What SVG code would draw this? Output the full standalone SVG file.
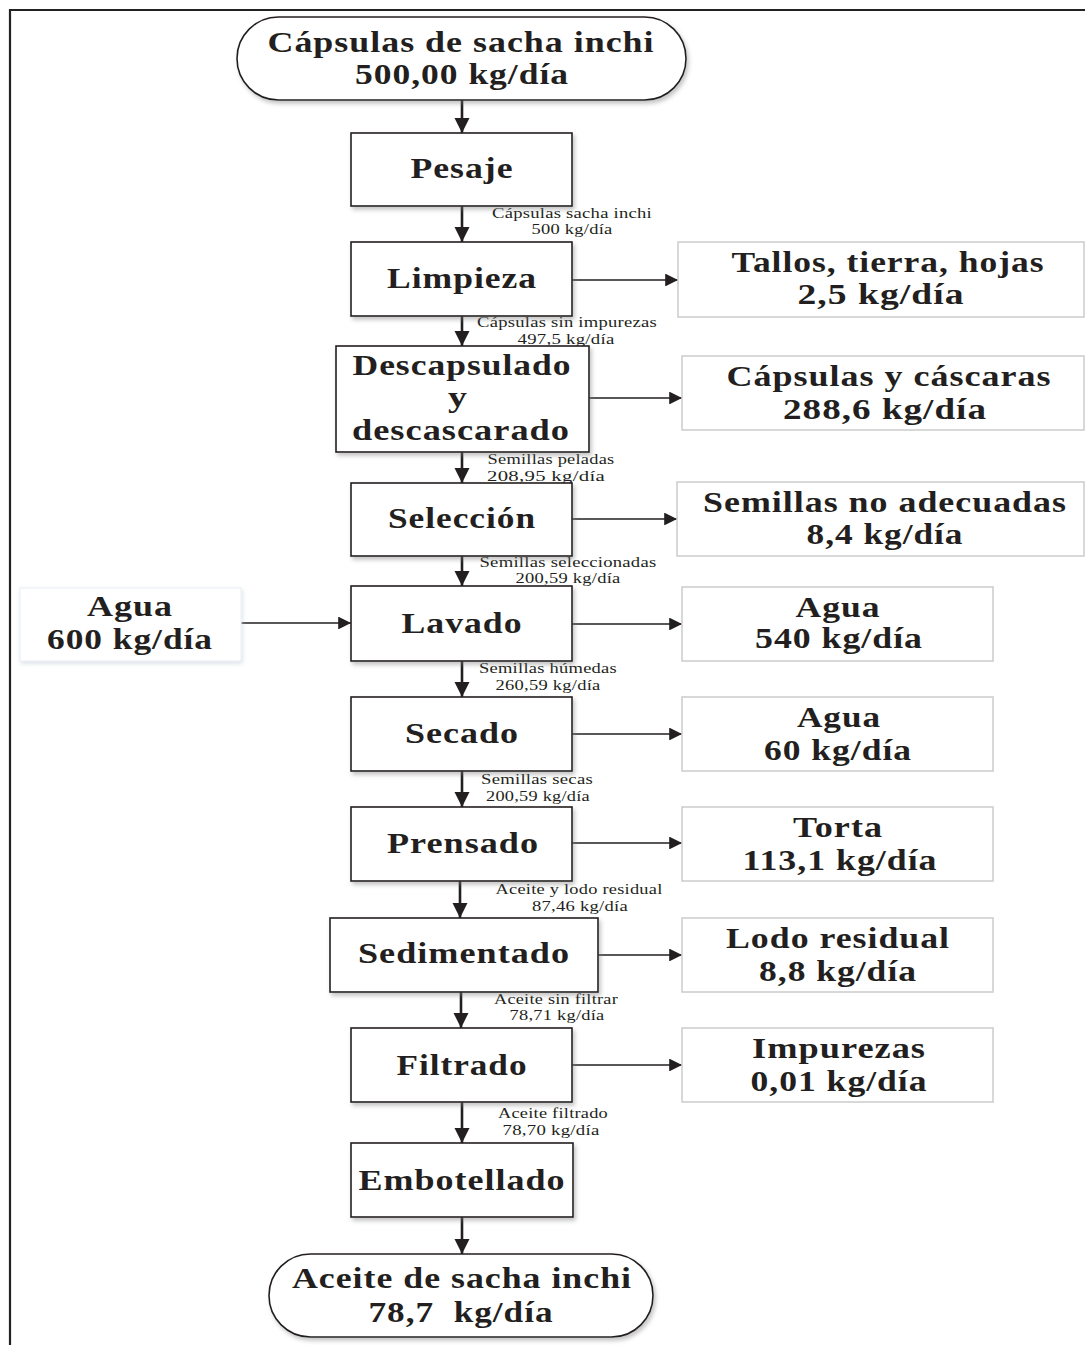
<svg xmlns="http://www.w3.org/2000/svg" width="1085" height="1345" viewBox="0 0 1085 1345">
  <style>
    .frame { stroke: #222; stroke-width: 2.2; fill: none; }
    .proc { fill: #fff; stroke: #231f20; stroke-width: 1.6; filter: url(#shadow); }
    .term { fill: #fff; stroke: #231f20; stroke-width: 1.6; filter: url(#shadow); }
    .out { fill: #fff; stroke: #cfcfcf; stroke-width: 1.6; }
    .inp { fill: #fff; stroke: #eef1f5; stroke-width: 1.2; filter: url(#softshadow); }
    .big { font-family: "Liberation Serif", "Times New Roman", serif; font-weight: bold; font-size: 29px; fill: #231f20; text-anchor: middle; letter-spacing: 0.8px; }
    .small { font-family: "Liberation Serif", "Times New Roman", serif; font-size: 14.5px; fill: #231f20; text-anchor: middle; letter-spacing: 0.2px; }
    .vline { stroke: #231f20; stroke-width: 2.6; fill: none; }
    .hline { stroke: #231f20; stroke-width: 1.6; fill: none; }
  </style>
  <defs>
    <filter id="shadow" x="-10%" y="-10%" width="125%" height="130%">
      <feDropShadow dx="2" dy="3" stdDeviation="2" flood-color="#7a7a7a" flood-opacity="0.45"/>
    </filter>
    <filter id="softshadow" x="-10%" y="-10%" width="125%" height="130%">
      <feDropShadow dx="1" dy="2" stdDeviation="2" flood-color="#b8c4d0" flood-opacity="0.5"/>
    </filter>
    <marker id="arrowV" viewBox="0 0 10 10" refX="10" refY="5" markerWidth="6" markerHeight="5.8" markerUnits="strokeWidth" orient="auto">
      <path d="M0,0 L10,5 L0,10 Z" fill="#231f20"/>
    </marker>
    <marker id="arrowH" viewBox="0 0 10 10" refX="10" refY="5" markerWidth="9.5" markerHeight="8" markerUnits="strokeWidth" orient="auto">
      <path d="M0,0 L10,5 L0,10 Z" fill="#231f20"/>
    </marker>
  </defs>

  <rect width="1085" height="1345" fill="#fff"/>

  <!-- page frame (top and left edges) -->
  <path class="frame" d="M10,1345 L10,10 L1085,10"/>

  <!-- connectors -->
  <g id="connectors">
    <line class="vline" x1="462" y1="100" x2="462" y2="133" marker-end="url(#arrowV)"/>
    <line class="vline" x1="462" y1="206" x2="462" y2="242" marker-end="url(#arrowV)"/>
    <line class="vline" x1="462" y1="316" x2="462" y2="346" marker-end="url(#arrowV)"/>
    <line class="vline" x1="462" y1="452" x2="462" y2="483" marker-end="url(#arrowV)"/>
    <line class="vline" x1="462" y1="556" x2="462" y2="586" marker-end="url(#arrowV)"/>
    <line class="vline" x1="462" y1="661" x2="462" y2="697" marker-end="url(#arrowV)"/>
    <line class="vline" x1="462" y1="771" x2="462" y2="807" marker-end="url(#arrowV)"/>
    <line class="vline" x1="460" y1="881" x2="460" y2="918" marker-end="url(#arrowV)"/>
    <line class="vline" x1="461" y1="992" x2="461" y2="1028" marker-end="url(#arrowV)"/>
    <line class="vline" x1="462" y1="1102" x2="462" y2="1143" marker-end="url(#arrowV)"/>
    <line class="vline" x1="462" y1="1217" x2="462" y2="1254" marker-end="url(#arrowV)"/>

    <line class="hline" x1="572" y1="280" x2="678" y2="280" marker-end="url(#arrowH)"/>
    <line class="hline" x1="589" y1="398" x2="682" y2="398" marker-end="url(#arrowH)"/>
    <line class="hline" x1="572" y1="519" x2="677" y2="519" marker-end="url(#arrowH)"/>
    <line class="hline" x1="241" y1="623" x2="351" y2="623" marker-end="url(#arrowH)"/>
    <line class="hline" x1="572" y1="624" x2="682" y2="624" marker-end="url(#arrowH)"/>
    <line class="hline" x1="572" y1="734" x2="682" y2="734" marker-end="url(#arrowH)"/>
    <line class="hline" x1="572" y1="843" x2="682" y2="843" marker-end="url(#arrowH)"/>
    <line class="hline" x1="598" y1="955" x2="682" y2="955" marker-end="url(#arrowH)"/>
    <line class="hline" x1="572" y1="1065" x2="682" y2="1065" marker-end="url(#arrowH)"/>

    <!-- flow labels -->
    <text class="small" x="572" y="218" textLength="160" lengthAdjust="spacingAndGlyphs">Cápsulas sacha inchi</text>
    <text class="small" x="572" y="234" textLength="81" lengthAdjust="spacingAndGlyphs">500 kg/día</text>
    <text class="small" x="567" y="327" textLength="180" lengthAdjust="spacingAndGlyphs">Cápsulas sin impurezas</text>
    <text class="small" x="566" y="344" textLength="97" lengthAdjust="spacingAndGlyphs">497,5 kg/día</text>
    <text class="small" x="551" y="464" textLength="127" lengthAdjust="spacingAndGlyphs">Semillas peladas</text>
    <text class="small" x="546" y="481" textLength="118" lengthAdjust="spacingAndGlyphs">208,95 kg/día</text>
    <text class="small" x="568" y="567" textLength="177" lengthAdjust="spacingAndGlyphs">Semillas seleccionadas</text>
    <text class="small" x="568" y="583" textLength="105" lengthAdjust="spacingAndGlyphs">200,59 kg/día</text>
    <text class="small" x="548" y="673" textLength="138" lengthAdjust="spacingAndGlyphs">Semillas húmedas</text>
    <text class="small" x="548" y="690" textLength="105" lengthAdjust="spacingAndGlyphs">260,59 kg/día</text>
    <text class="small" x="537" y="784" textLength="112" lengthAdjust="spacingAndGlyphs">Semillas secas</text>
    <text class="small" x="538" y="801" textLength="104" lengthAdjust="spacingAndGlyphs">200,59 kg/día</text>
    <text class="small" x="579" y="894" textLength="167" lengthAdjust="spacingAndGlyphs">Aceite y lodo residual</text>
    <text class="small" x="580" y="911" textLength="96" lengthAdjust="spacingAndGlyphs">87,46 kg/día</text>
    <text class="small" x="556" y="1004" textLength="124" lengthAdjust="spacingAndGlyphs">Aceite sin filtrar</text>
    <text class="small" x="557" y="1020" textLength="95" lengthAdjust="spacingAndGlyphs">78,71 kg/día</text>
    <text class="small" x="553" y="1118" textLength="110" lengthAdjust="spacingAndGlyphs">Aceite filtrado</text>
    <text class="small" x="551" y="1135" textLength="97" lengthAdjust="spacingAndGlyphs">78,70 kg/día</text>
  </g>

  <!-- start terminator -->
  <g id="start">
    <rect class="term" x="237" y="17" width="449" height="83" rx="41.5"/>
    <text class="big" x="461" y="52" textLength="387" lengthAdjust="spacingAndGlyphs">Cápsulas de sacha inchi</text>
    <text class="big" x="462" y="84" textLength="214" lengthAdjust="spacingAndGlyphs">500,00 kg/día</text>
  </g>

  <!-- process steps -->
  <g id="pesaje">
    <rect class="proc" x="351" y="133" width="221" height="73"/>
    <text class="big" x="462" y="178" textLength="103" lengthAdjust="spacingAndGlyphs">Pesaje</text>
  </g>
  <g id="limpieza">
    <rect class="proc" x="351" y="242" width="221" height="74"/>
    <text class="big" x="462" y="288" textLength="150" lengthAdjust="spacingAndGlyphs">Limpieza</text>
  </g>
  <g id="descapsulado">
    <rect class="proc" x="336" y="346" width="253" height="106"/>
    <text class="big" x="462" y="375" textLength="219" lengthAdjust="spacingAndGlyphs">Descapsulado</text>
    <text class="big" x="458" y="407" textLength="20" lengthAdjust="spacingAndGlyphs">y</text>
    <text class="big" x="461" y="440" textLength="218" lengthAdjust="spacingAndGlyphs">descascarado</text>
  </g>
  <g id="seleccion">
    <rect class="proc" x="351" y="483" width="221" height="73"/>
    <text class="big" x="462" y="528" textLength="148" lengthAdjust="spacingAndGlyphs">Selección</text>
  </g>
  <g id="lavado">
    <rect class="proc" x="351" y="586" width="221" height="75"/>
    <text class="big" x="462" y="633" textLength="121" lengthAdjust="spacingAndGlyphs">Lavado</text>
  </g>
  <g id="secado">
    <rect class="proc" x="351" y="697" width="221" height="74"/>
    <text class="big" x="462" y="743" textLength="114" lengthAdjust="spacingAndGlyphs">Secado</text>
  </g>
  <g id="prensado">
    <rect class="proc" x="351" y="807" width="221" height="74"/>
    <text class="big" x="463" y="853" textLength="152" lengthAdjust="spacingAndGlyphs">Prensado</text>
  </g>
  <g id="sedimentado">
    <rect class="proc" x="330" y="918" width="268" height="74"/>
    <text class="big" x="464" y="963" textLength="212" lengthAdjust="spacingAndGlyphs">Sedimentado</text>
  </g>
  <g id="filtrado">
    <rect class="proc" x="351" y="1028" width="221" height="74"/>
    <text class="big" x="462" y="1075" textLength="131" lengthAdjust="spacingAndGlyphs">Filtrado</text>
  </g>
  <g id="embotellado">
    <rect class="proc" x="351" y="1143" width="222" height="74"/>
    <text class="big" x="462" y="1190" textLength="207" lengthAdjust="spacingAndGlyphs">Embotellado</text>
  </g>

  <!-- end terminator -->
  <g id="end">
    <rect class="term" x="269" y="1254" width="384" height="83" rx="41.5"/>
    <text class="big" x="462" y="1288" textLength="340" lengthAdjust="spacingAndGlyphs">Aceite de sacha inchi</text>
    <text class="big" x="461" y="1322" textLength="185" lengthAdjust="spacingAndGlyphs">78,7&#160; kg/día</text>
  </g>

  <!-- water input -->
  <g id="agua-entrada">
    <rect class="inp" x="20" y="588" width="221" height="73"/>
    <text class="big" x="130" y="616" textLength="86" lengthAdjust="spacingAndGlyphs">Agua</text>
    <text class="big" x="130" y="649" textLength="166" lengthAdjust="spacingAndGlyphs">600 kg/día</text>
  </g>

  <!-- outputs -->
  <g id="tallos">
    <rect class="out" x="678" y="242" width="406" height="75"/>
    <text class="big" x="888" y="272" textLength="313" lengthAdjust="spacingAndGlyphs">Tallos, tierra, hojas</text>
    <text class="big" x="881" y="304" textLength="167" lengthAdjust="spacingAndGlyphs">2,5 kg/día</text>
  </g>
  <g id="capsulas-cascaras">
    <rect class="out" x="682" y="356" width="402" height="74"/>
    <text class="big" x="889" y="386" textLength="325" lengthAdjust="spacingAndGlyphs">Cápsulas y cáscaras</text>
    <text class="big" x="885" y="419" textLength="204" lengthAdjust="spacingAndGlyphs">288,6 kg/día</text>
  </g>
  <g id="semillas-no-adecuadas">
    <rect class="out" x="677" y="482" width="407" height="74"/>
    <text class="big" x="885" y="512" textLength="364" lengthAdjust="spacingAndGlyphs">Semillas no adecuadas</text>
    <text class="big" x="885" y="544" textLength="157" lengthAdjust="spacingAndGlyphs">8,4 kg/día</text>
  </g>
  <g id="agua-lavado">
    <rect class="out" x="682" y="587" width="311" height="74"/>
    <text class="big" x="838" y="617" textLength="85" lengthAdjust="spacingAndGlyphs">Agua</text>
    <text class="big" x="839" y="648" textLength="168" lengthAdjust="spacingAndGlyphs">540 kg/día</text>
  </g>
  <g id="agua-secado">
    <rect class="out" x="682" y="697" width="311" height="74"/>
    <text class="big" x="839" y="727" textLength="84" lengthAdjust="spacingAndGlyphs">Agua</text>
    <text class="big" x="838" y="760" textLength="148" lengthAdjust="spacingAndGlyphs">60 kg/día</text>
  </g>
  <g id="torta">
    <rect class="out" x="682" y="807" width="311" height="74"/>
    <text class="big" x="838" y="837" textLength="90" lengthAdjust="spacingAndGlyphs">Torta</text>
    <text class="big" x="840" y="870" textLength="195" lengthAdjust="spacingAndGlyphs">113,1 kg/día</text>
  </g>
  <g id="lodo">
    <rect class="out" x="682" y="918" width="311" height="74"/>
    <text class="big" x="838" y="948" textLength="224" lengthAdjust="spacingAndGlyphs">Lodo residual</text>
    <text class="big" x="838" y="981" textLength="158" lengthAdjust="spacingAndGlyphs">8,8 kg/día</text>
  </g>
  <g id="impurezas">
    <rect class="out" x="682" y="1028" width="311" height="74"/>
    <text class="big" x="839" y="1058" textLength="174" lengthAdjust="spacingAndGlyphs">Impurezas</text>
    <text class="big" x="839" y="1091" textLength="177" lengthAdjust="spacingAndGlyphs">0,01 kg/día</text>
  </g>
</svg>
